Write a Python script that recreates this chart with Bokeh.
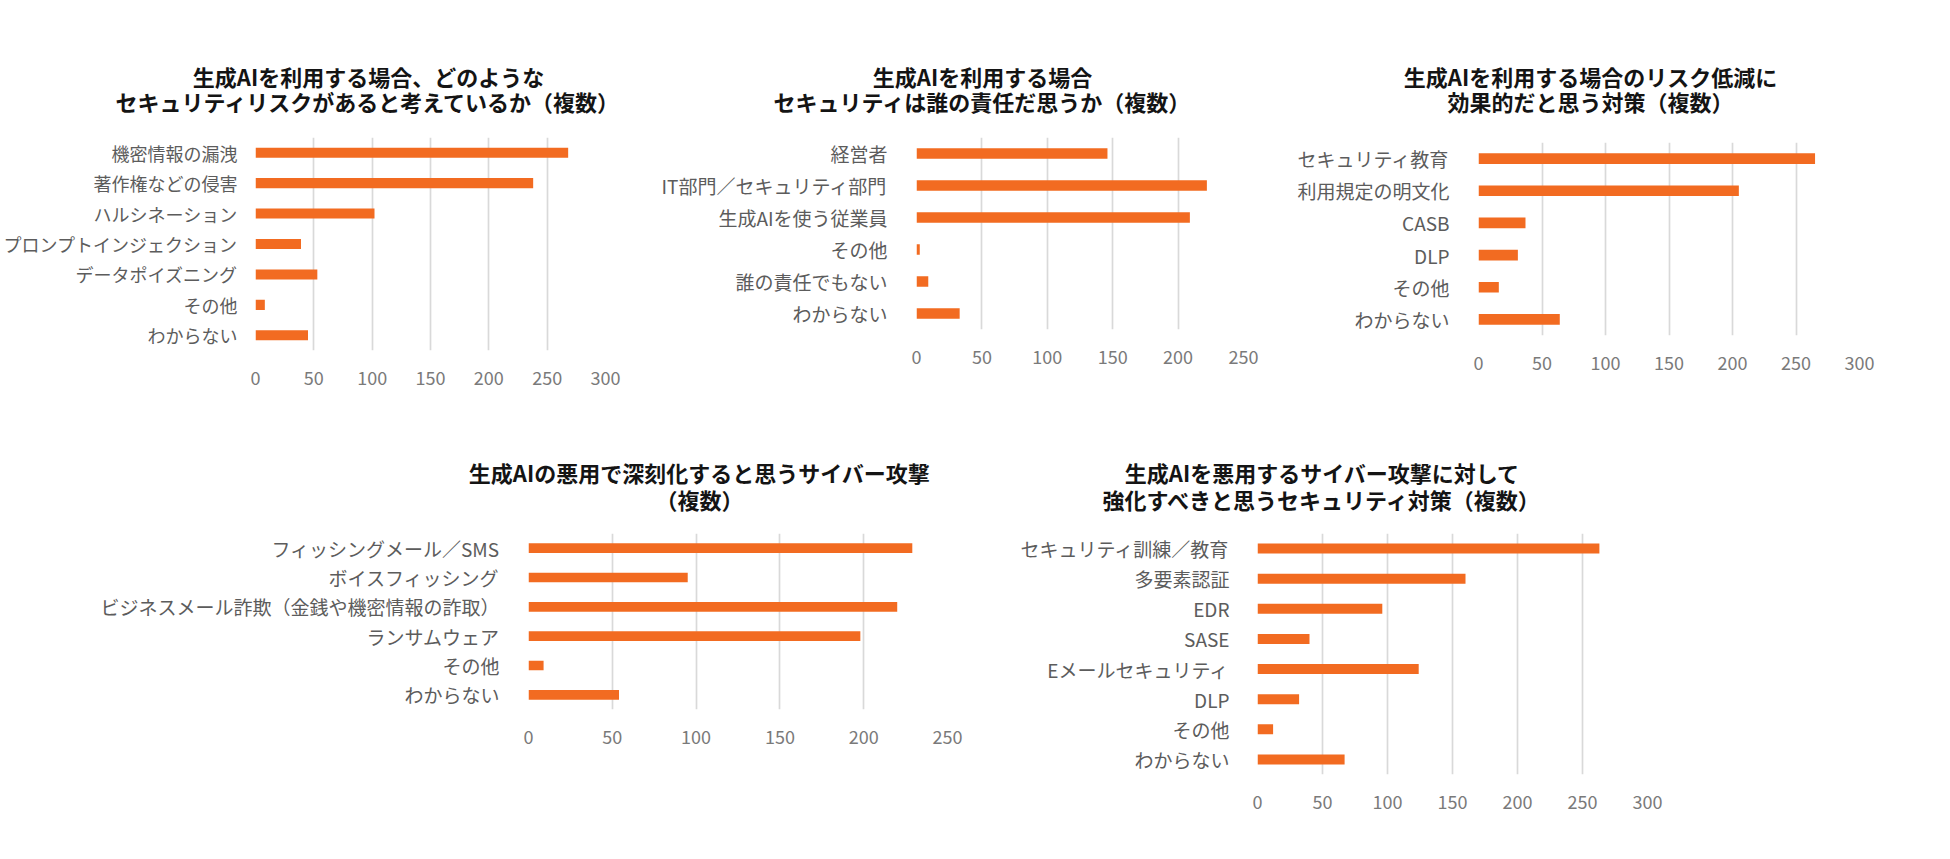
from bokeh.plotting import figure
from bokeh.models import FactorRange, Range1d, FixedTicker
from bokeh.layouts import column, row
from bokeh.core.properties import value
from bokeh.embed import file_html
from bokeh.resources import INLINE

# ---------------- data ----------------
q1_title = ["生成AIを利用する場合、どのような", "セキュリティリスクがあると考えているか（複数）"]
q1_cats = ["機密情報の漏洩", "著作権などの侵害", "ハルシネーション", "プロンプトインジェクション",
           "データポイズニング", "その他", "わからない"]
q1_vals = [268, 238, 102, 39, 53, 8, 45]

q2_title = ["生成AIを利用する場合", "セキュリティは誰の責任だ思うか（複数）"]
q2_cats = ["経営者", "IT部門／セキュリティ部門", "生成AIを使う従業員", "その他", "誰の責任でもない", "わからない"]
q2_vals = [146, 222, 209, 2.5, 9, 33]

q3_title = ["生成AIを利用する場合のリスク低減に", "効果的だと思う対策（複数）"]
q3_cats = ["セキュリティ教育", "利用規定の明文化", "CASB", "DLP", "その他", "わからない"]
q3_vals = [265, 205, 37, 31, 16, 64]

q4_title = ["生成AIの悪用で深刻化すると思うサイバー攻撃", "（複数）"]
q4_cats = ["フィッシングメール／SMS", "ボイスフィッシング", "ビジネスメール詐欺（金銭や機密情報の詐取）",
           "ランサムウェア", "その他", "わからない"]
q4_vals = [229, 95, 220, 198, 9, 54]

q5_title = ["生成AIを悪用するサイバー攻撃に対して", "強化すべきと思うセキュリティ対策（複数）"]
q5_cats = ["セキュリティ訓練／教育", "多要素認証", "EDR", "SASE", "Eメールセキュリティ", "DLP", "その他", "わからない"]
q5_vals = [263, 160, 96, 40, 124, 32, 12, 67]

q1_ticks = [0, 50, 100, 150, 200, 250, 300]
q2_ticks = [0, 50, 100, 150, 200, 250]
q3_ticks = [0, 50, 100, 150, 200, 250, 300]
q4_ticks = [0, 50, 100, 150, 200, 250]
q5_ticks = [0, 50, 100, 150, 200, 250, 300]

# ---------------- styles ----------------
FONT = "Noto Sans CJK JP"
BAR = "#f26b21"
GRID = "#d9d9d9"
LABEL = "#5c5c5c"
TICK = "#7a7a7a"
PAGE_W = 1942
M = 8  # page margin


def make_chart(cats, vals, ticks, fig_left, fig_top, width, height,
               frame_left, frame_right, frame_top, frame_bottom, standoff, label_size):
    bl = frame_left - fig_left
    br = (fig_left + width) - frame_right
    bt = frame_top - fig_top
    bb = (fig_top + height) - frame_bottom
    p = figure(width=width, height=height, output_backend="svg", toolbar_location=None,
               y_range=FactorRange(factors=list(reversed(cats)), range_padding=0),
               x_range=Range1d(ticks[0], ticks[-1]),
               min_border_left=bl, min_border_right=br, min_border_top=bt, min_border_bottom=bb)
    p.hbar(y=cats, right=vals, left=0, height=0.33, color=BAR, line_color=None)
    p.outline_line_color = None
    p.ygrid.grid_line_color = None
    p.xgrid.grid_line_color = GRID
    p.xgrid.grid_line_width = 1.7
    p.xaxis.ticker = FixedTicker(ticks=ticks)
    for ax in (p.xaxis, p.yaxis):
        ax.axis_line_color = None
        ax.major_tick_line_color = None
        ax.minor_tick_line_color = None
    p.xaxis.major_label_text_font = FONT
    p.xaxis.major_label_text_font_size = "18px"
    p.xaxis.major_label_text_color = TICK
    p.xaxis.major_label_standoff = 14
    p.yaxis.major_label_text_font = FONT
    p.yaxis.major_label_text_font_size = label_size
    p.yaxis.major_label_text_color = LABEL
    p.yaxis.major_label_standoff = standoff
    return p


def title_strip(strip_top, height, titles, centers, line_ys):
    """A borderless figure whose data units equal page pixels, holding chart titles."""
    t = figure(width=PAGE_W, height=height, output_backend="svg", toolbar_location=None,
               x_range=Range1d(M, M + PAGE_W), y_range=Range1d(strip_top + height, strip_top),
               min_border=0, x_axis_type=None, y_axis_type=None)
    t.outline_line_color = None
    t.grid.grid_line_color = None
    xs, ys, txt = [], [], []
    for lines, cx, yy in zip(titles, centers, line_ys):
        for line, ly in zip(lines, yy):
            xs.append(cx)
            ys.append(ly)
            txt.append(line)
    t.text(x=xs, y=ys, text=txt, text_font=value(FONT), text_font_size="22px",
           text_font_style="bold", text_color="#141414", text_align="center",
           text_baseline="middle")
    return t


# page coordinates
t1 = title_strip(8, 125, [q1_title, q2_title, q3_title], [376, 990, 1598],
                 [(83, 108), (83, 108), (83, 108)])
p1 = make_chart(q1_cats, q1_vals, q1_ticks, 8, 133, 652, 295, 257, 613, 145, 358, 12, "18px")
p2 = make_chart(q2_cats, q2_vals, q2_ticks, 660, 133, 640, 295, 924, 1251, 145, 337, 23, "19px")
p3 = make_chart(q3_cats, q3_vals, q3_ticks, 1300, 133, 642, 295, 1486, 1867, 150, 343, 23, "19px")

t2 = title_strip(428, 102, [q4_title, q5_title], [707, 1330], [(479, 506), (479, 506)])
p4 = make_chart(q4_cats, q4_vals, q4_ticks, 8, 530, 992, 320, 536, 955, 541, 717, 23, "19px")
p5 = make_chart(q5_cats, q5_vals, q5_ticks, 1000, 530, 716, 320, 1265, 1655, 541, 782, 22, "19px")

layout = column(t1, row(column(p1), column(p2), column(p3)), t2, row(column(p4), column(p5)))
open("out.html", "w").write(file_html(layout, INLINE))
